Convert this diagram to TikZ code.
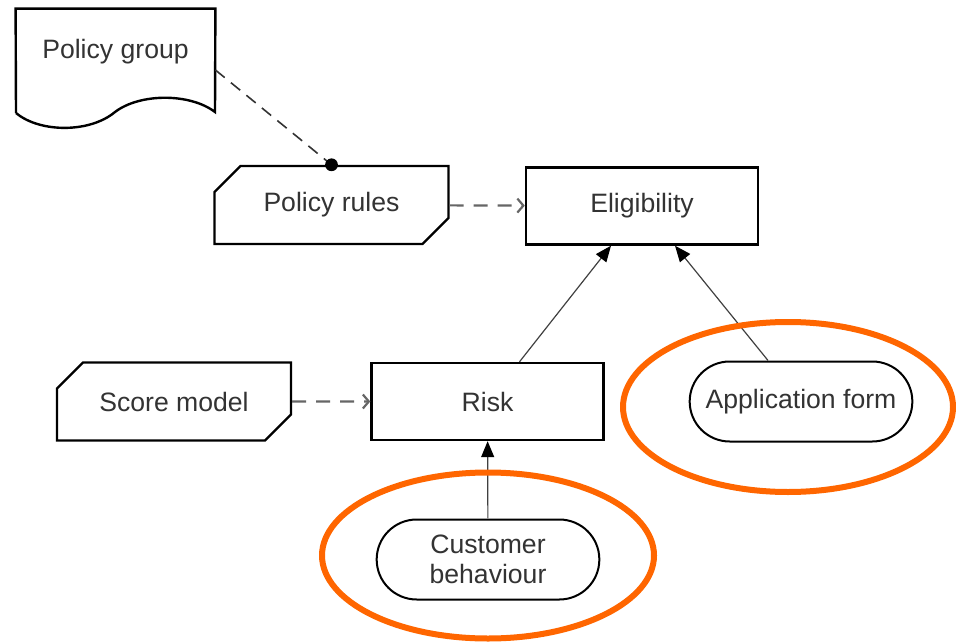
\documentclass[tikz,border=0pt]{standalone}
\usepackage{fontspec}
\setmainfont{Liberation Sans}
\usepackage{tikz}
\usepackage{xcolor}
\usetikzlibrary{shapes.misc}
\usetikzlibrary{calc}
\usetikzlibrary{positioning, arrows.meta}

\definecolor{ringorange}{HTML}{FF6600}
\definecolor{inkgray}{HTML}{333333}

\begin{document}
\begin{tikzpicture}[x=0.5pt, y=-0.5pt,
    font=\fontsize{13.3}{15}\selectfont, text=inkgray,
    box/.style={draw=black, line width=1.2pt, fill=white, align=center},
    procbox/.style={box, rectangle, minimum width=116pt, minimum height=38.5pt},
    cutbox/.style={box, chamfered rectangle, chamfered rectangle corners={north west, south east},
        chamfered rectangle xsep=6.5pt, chamfered rectangle ysep=6.5pt, minimum width=117pt, minimum height=39pt},
    databox/.style={box, rounded rectangle, line width=1pt, minimum width=118pt, minimum height=40pt},
    uses/.style={draw=black!60, line width=1.1pt, dash pattern=on 7pt off 5pt, -{Straight Barb[length=3pt, width=7pt]}},
    feeds/.style={draw=black!75, line width=0.6pt, -{Triangle[length=8pt, width=6.5pt, color=black]}},
    ring/.style={draw=ringorange, line width=3pt}]
    % Fix the frame of the picture
    \useasboundingbox (0,0) rectangle (956,641);

    % Policy document, drawn with a wavy bottom
    \node[minimum width=99.5pt, minimum height=43pt] (pgroup) at (115.5,52) {Policy group};
    \draw[line width=1.2pt] (16,113) -- (pgroup.north west) -- (pgroup.north east) -- (215,112)
        .. controls (190,93) and (140,93) .. (115,112)
        .. controls (90,133) and (40,133) .. (16,113);

    % Knowledge sources and decisions
    \node[cutbox] (prules) at (331.5,205) {Policy rules};
    \node[procbox] (elig) at (642,206) {Eligibility};
    \node[cutbox] (score) at (174,401.5) {Score model};
    \node[procbox] (risk) at (487.5,401.5) {Risk};

    % Input data
    \node[databox] (appform) at (801,401.5) {Application form};
    \node[databox] (custbeh) at (488,559.5) {Customer\\behaviour};

    % Authority links
    \draw[draw=black!80, line width=0.8pt, dash pattern=on 6pt off 4pt] ([yshift=-9pt]pgroup.east) -- (prules.north);
    \fill (prules.north) circle (3.2pt);
    \draw[uses] (prules) -- (elig);
    \draw[uses] (score) -- (risk);

    % Information requirements
    \draw[feeds] ([xshift=16pt]risk.north) -- ([xshift=-15.5pt]elig.south);
    \draw[feeds] ([xshift=-16.5pt]appform.north) -- ([xshift=16.5pt]elig.south);
    \draw[feeds] (custbeh) -- (risk);

    % Highlight rings
    \draw[ring] ($(appform)+(-13,5.5)$) ellipse (165 and 85);
    \draw[ring] ($(custbeh)+(0,-4)$) ellipse (166 and 83);
\end{tikzpicture}
\end{document}
